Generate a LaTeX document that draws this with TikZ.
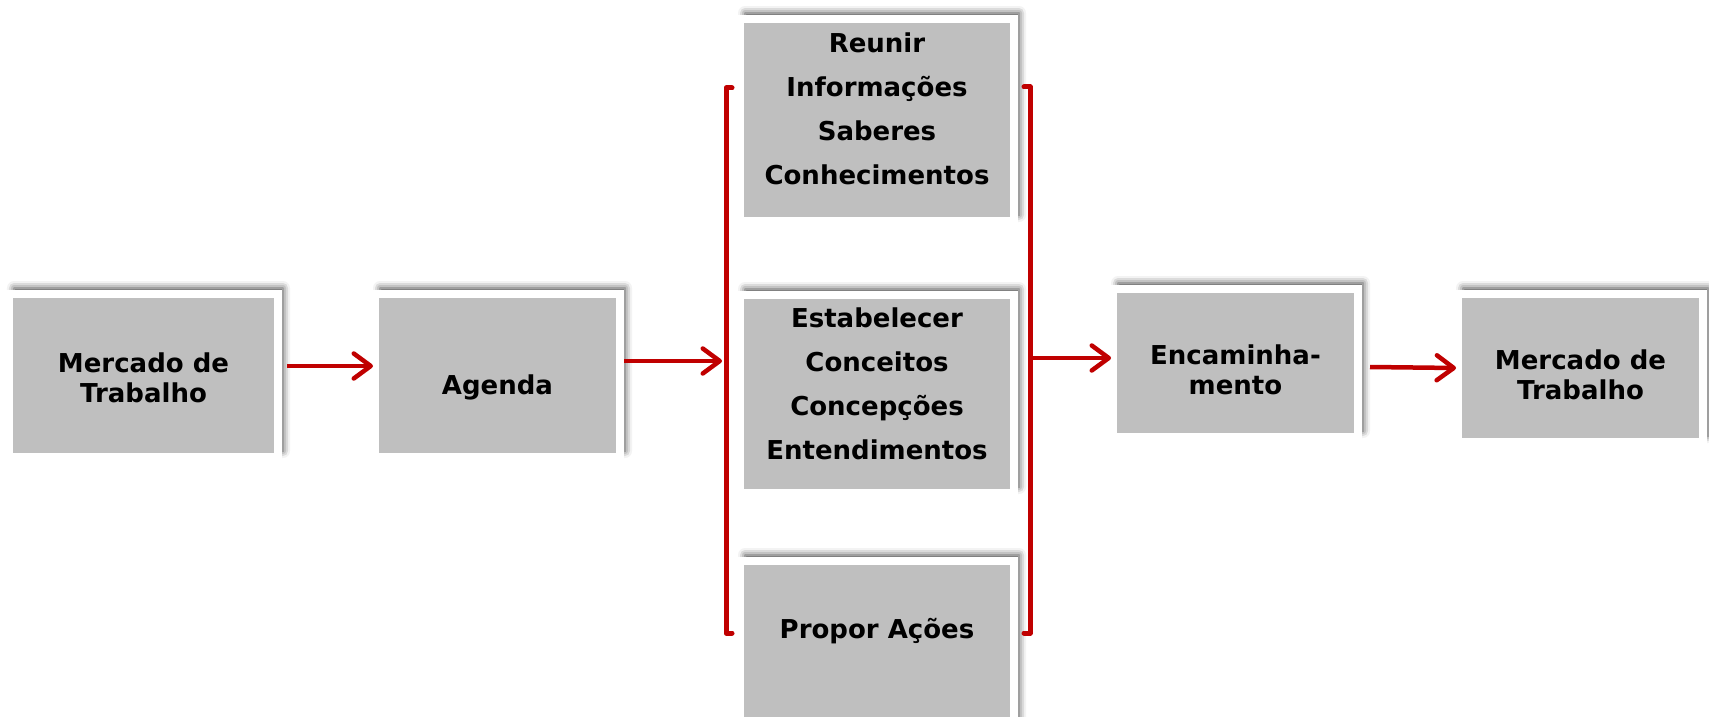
\documentclass[tikz,border=0pt]{standalone}
\usepackage{fontspec}
\setmainfont{DejaVu Sans}
\usetikzlibrary{arrows.meta,shadows.blur}
\definecolor{vermelho}{HTML}{C00000}
\definecolor{cinza}{HTML}{BFBFBF}
\tikzset{
  caixa/.style={draw=white, line width=8pt, fill=cinza, inner sep=0pt,
    anchor=north west, align=center, minimum width=245pt,
    font=\bfseries\fontsize{26}{30}\selectfont,
    blur shadow={shadow xshift=5pt, shadow yshift=6pt,
      shadow blur radius=7pt, shadow opacity=75}},
  larga/.style={caixa, minimum width=274pt,
    font=\bfseries\fontsize{26}{44}\selectfont},
  seta/.style={vermelho, line width=4.5pt,
    -{Straight Barb[length=17pt,width=25pt,round]}},
  chave/.style={vermelho, line width=5pt, line cap=round, line join=round}
}

\begin{document}
\begin{tikzpicture}[x=1pt,y=-1pt]
    \useasboundingbox (0,0) rectangle (1709,717);

    %% caixas da esquerda
    \node[caixa, minimum width=269pt, text height=108pt, text depth=55pt]
        (merc1) at (5,290) {Mercado de\\Trabalho};
    \node[caixa, text height=100pt, text depth=63pt]
        (agenda) at (371,290) {Agenda};

    %% caixas do meio
    \node[larga, text height=165pt, text depth=37pt]
        (reunir) at (736,15) {Reunir\\Informações\\Saberes\\Conhecimentos};
    \node[larga, text height=164pt, text depth=34pt]
        (estab) at (736,291) {Estabelecer\\Conceitos\\Concepções\\Entendimentos};
    \node[larga, text height=77pt, text depth=100pt]
        (propor) at (736,557) {Propor Ações};

    %% caixas da direita
    \node[caixa, text height=105pt, text depth=43pt]
        (encam) at (1109,285) {Encaminha-\\mento};
    \node[caixa, text height=105pt, text depth=43pt]
        (merc2) at (1454,290) {Mercado de\\Trabalho};

    % chaves
    \coordinate (ch1a) at (726,88);
    \coordinate (ch1b) at (726,633);
    \coordinate (ch1m) at (726,361);
    \coordinate (ch2a) at (1030,87);
    \coordinate (ch2b) at (1030,633);
    \coordinate (ch2m) at (1030,358);
    \draw[chave] ([xshift=6pt]ch1a) -- (ch1a) -- (ch1b) -- ([xshift=6pt]ch1b);
    \draw[chave] ([xshift=-6pt]ch2a) -- (ch2a) -- (ch2b) -- ([xshift=-6pt]ch2b);

    % setas
    \draw[seta] ([xshift=5pt,yshift=9.5pt]merc1.east) -- ([xshift=2pt,yshift=9.5pt]agenda.west);
    \draw[seta] (ch1m -| agenda.east) -- ([xshift=-4pt]ch1m);
    \draw[seta] (ch2m) -- ([xshift=2pt]ch2m -| encam.west);
    \draw[seta] ([xshift=8pt,yshift=-4pt]encam.east) -- ([xshift=2pt]merc2.west);

\end{tikzpicture}
\end{document}
